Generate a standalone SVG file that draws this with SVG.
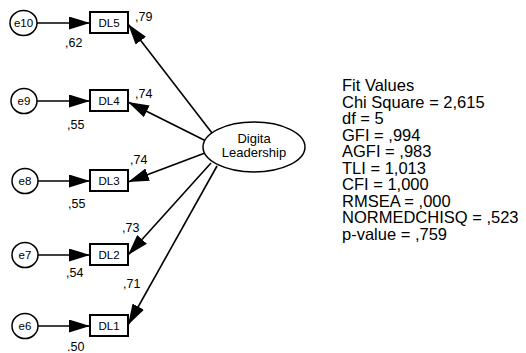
<svg xmlns="http://www.w3.org/2000/svg" width="526" height="353" viewBox="0 0 526 353">
  <style>
    .lbl { font-family: "Liberation Sans", Arial, sans-serif; fill: #000; }
    .err { fill: #fff; stroke: #000; stroke-width: 1.5; }
    .obs { fill: #fff; stroke: #000; stroke-width: 2; }
    .lat { fill: #fff; stroke: #000; stroke-width: 1.5; }
    .edge { stroke: #000; stroke-width: 1.6; fill: none; marker-end: url(#head); }
    .node-text { font-size: 11.5px; text-anchor: middle; }
    .coef { font-size: 12.5px; }
    .fit { font-size: 16.5px; }
  </style>
  <defs>
    <marker id="head" markerUnits="userSpaceOnUse" markerWidth="22" markerHeight="13" refX="21" refY="6.5" orient="auto">
      <path d="M0,0 L21,6.5 L0,13 z" fill="#000"/>
    </marker>
  </defs>

  <!-- paths: errors to indicators, factor to indicators -->
  <g id="connectors">
    <line class="edge" x1="37" y1="23" x2="90" y2="23"/>
    <line class="edge" x1="37" y1="101" x2="90" y2="101"/>
    <line class="edge" x1="38" y1="181" x2="90" y2="181"/>
    <line class="edge" x1="38" y1="255" x2="90" y2="255"/>
    <line class="edge" x1="38" y1="326" x2="90" y2="326"/>
    <line class="edge" x1="212" y1="133" x2="128" y2="24"/>
    <line class="edge" x1="206" y1="141" x2="128" y2="102"/>
    <line class="edge" x1="205" y1="153" x2="128" y2="182"/>
    <line class="edge" x1="211" y1="163" x2="128" y2="255"/>
    <line class="edge" x1="217" y1="166" x2="128" y2="325"/>
  </g>

  <!-- latent factor -->
  <g id="digita-leadership">
    <ellipse class="lat" cx="254" cy="147" rx="51" ry="25"/>
    <text class="lbl node-text" x="254" y="143" style="font-size:13px">Digita</text>
    <text class="lbl node-text" x="254" y="157" style="font-size:13px">Leadership</text>
  </g>

  <!-- indicators -->
  <g id="DL5">
    <rect class="obs" x="90" y="12" width="38" height="21"/>
    <text class="lbl node-text" x="109" y="27">DL5</text>
  </g>
  <g id="DL4">
    <rect class="obs" x="90" y="90" width="38" height="21"/>
    <text class="lbl node-text" x="109" y="105">DL4</text>
  </g>
  <g id="DL3">
    <rect class="obs" x="90" y="170" width="38" height="21"/>
    <text class="lbl node-text" x="109" y="185">DL3</text>
  </g>
  <g id="DL2">
    <rect class="obs" x="90" y="244" width="38" height="21"/>
    <text class="lbl node-text" x="109" y="259">DL2</text>
  </g>
  <g id="DL1">
    <rect class="obs" x="90" y="315" width="38" height="21"/>
    <text class="lbl node-text" x="109" y="330">DL1</text>
  </g>

  <!-- error terms -->
  <g id="e10">
    <ellipse class="err" cx="23.5" cy="23" rx="13.5" ry="12.5"/>
    <text class="lbl node-text" x="23.5" y="27">e10</text>
  </g>
  <g id="e9">
    <ellipse class="err" cx="24" cy="101" rx="13" ry="12.5"/>
    <text class="lbl node-text" x="24" y="105">e9</text>
  </g>
  <g id="e8">
    <ellipse class="err" cx="25" cy="181" rx="13" ry="12.5"/>
    <text class="lbl node-text" x="25" y="185">e8</text>
  </g>
  <g id="e7">
    <ellipse class="err" cx="25" cy="255" rx="13" ry="12.5"/>
    <text class="lbl node-text" x="25" y="259">e7</text>
  </g>
  <g id="e6">
    <ellipse class="err" cx="25" cy="326" rx="13" ry="12.5"/>
    <text class="lbl node-text" x="25" y="330">e6</text>
  </g>

  <!-- loadings and squared multiple correlations -->
  <g id="estimates">
    <text class="lbl coef" x="135" y="21">,79</text>
    <text class="lbl coef" x="65" y="47">,62</text>
    <text class="lbl coef" x="135" y="98">,74</text>
    <text class="lbl coef" x="67" y="129">,55</text>
    <text class="lbl coef" x="130" y="164">,74</text>
    <text class="lbl coef" x="68" y="208">,55</text>
    <text class="lbl coef" x="122" y="232">,73</text>
    <text class="lbl coef" x="66" y="277">,54</text>
    <text class="lbl coef" x="123" y="288">,71</text>
    <text class="lbl coef" x="67" y="351">.50</text>
  </g>

  <!-- model fit summary -->
  <g id="fit-values" class="lbl fit">
    <text x="342" y="91">Fit Values</text>
    <text x="342" y="107.5">Chi Square = 2,615</text>
    <text x="342" y="124">df = 5</text>
    <text x="342" y="140.5">GFI = ,994</text>
    <text x="342" y="157">AGFI = ,983</text>
    <text x="342" y="173.5">TLI = 1,013</text>
    <text x="342" y="190">CFI = 1,000</text>
    <text x="342" y="206.5">RMSEA = ,000</text>
    <text x="342" y="223">NORMEDCHISQ = ,523</text>
    <text x="342" y="239.5">p-value = ,759</text>
  </g>
</svg>
